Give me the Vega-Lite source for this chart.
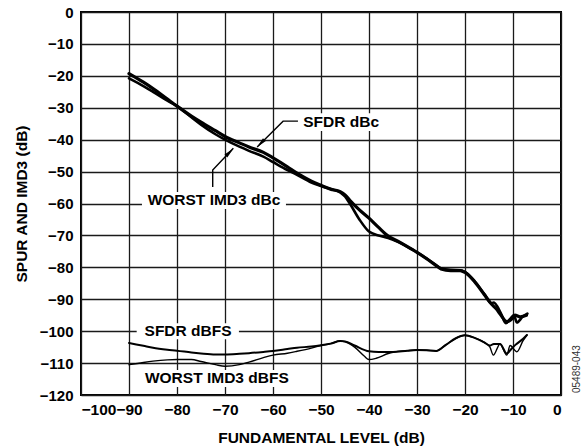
{
  "$schema": "https://vega.github.io/schema/vega-lite/v6.json",
  "width": 480,
  "height": 383,
  "autosize": {"type": "none"},
  "padding": {"left": 81, "top": 12, "right": 27, "bottom": 51},
  "background": "white",
  "config": {
    "view": {"stroke": "black", "strokeWidth": 2},
    "axis": {
      "grid": true, "gridColor": "#1a1a1a", "gridWidth": 1.3, "gridOpacity": 1,
      "domain": false, "ticks": false, "labelOverlap": false, "labelBound": false,
      "labelFont": "Liberation Sans", "labelFontWeight": "bold", "labelColor": "black", "labelFontSize": 15,
      "titleFont": "Liberation Sans", "titleFontWeight": "bold", "titleColor": "black", "titleFontSize": 15.5
    }
  },
  "datasets": {
    "curves": [
      {"series": "SFDR dBc", "x": -90, "y": -19.3}, {"series": "SFDR dBc", "x": -87, "y": -22}, {"series": "SFDR dBc", "x": -85, "y": -24}, {"series": "SFDR dBc", "x": -82, "y": -27.3}, {"series": "SFDR dBc", "x": -80, "y": -29.5}, {"series": "SFDR dBc", "x": -77, "y": -32.6}, {"series": "SFDR dBc", "x": -75, "y": -34.5}, {"series": "SFDR dBc", "x": -72, "y": -37.2}, {"series": "SFDR dBc", "x": -70, "y": -39}, {"series": "SFDR dBc", "x": -67, "y": -41}, {"series": "SFDR dBc", "x": -65, "y": -42.3}, {"series": "SFDR dBc", "x": -62, "y": -44}, {"series": "SFDR dBc", "x": -60, "y": -45.7}, {"series": "SFDR dBc", "x": -57, "y": -48.5}, {"series": "SFDR dBc", "x": -55, "y": -50.5}, {"series": "SFDR dBc", "x": -52, "y": -53}, {"series": "SFDR dBc", "x": -50, "y": -54.3}, {"series": "SFDR dBc", "x": -48, "y": -55.5}, {"series": "SFDR dBc", "x": -46, "y": -56.3}, {"series": "SFDR dBc", "x": -45, "y": -57.3}, {"series": "SFDR dBc", "x": -44, "y": -59}, {"series": "SFDR dBc", "x": -42, "y": -62}, {"series": "SFDR dBc", "x": -40, "y": -64.6}, {"series": "SFDR dBc", "x": -38, "y": -67.5}, {"series": "SFDR dBc", "x": -36, "y": -70.2}, {"series": "SFDR dBc", "x": -34, "y": -71.8}, {"series": "SFDR dBc", "x": -32, "y": -73.5}, {"series": "SFDR dBc", "x": -30, "y": -75.3}, {"series": "SFDR dBc", "x": -28, "y": -77.3}, {"series": "SFDR dBc", "x": -26, "y": -79.5}, {"series": "SFDR dBc", "x": -25, "y": -80.5}, {"series": "SFDR dBc", "x": -23, "y": -81}, {"series": "SFDR dBc", "x": -21, "y": -81}, {"series": "SFDR dBc", "x": -20, "y": -81.6}, {"series": "SFDR dBc", "x": -18, "y": -84.5}, {"series": "SFDR dBc", "x": -16, "y": -88.5}, {"series": "SFDR dBc", "x": -14.5, "y": -91.5}, {"series": "SFDR dBc", "x": -13.5, "y": -93}, {"series": "SFDR dBc", "x": -12.5, "y": -95}, {"series": "SFDR dBc", "x": -11.3, "y": -97}, {"series": "SFDR dBc", "x": -10.5, "y": -96.5}, {"series": "SFDR dBc", "x": -9.6, "y": -95}, {"series": "SFDR dBc", "x": -8.5, "y": -95.5}, {"series": "SFDR dBc", "x": -7.2, "y": -95},

      {"series": "WORST IMD3 dBc", "x": -90, "y": -20.8}, {"series": "WORST IMD3 dBc", "x": -87, "y": -23.2}, {"series": "WORST IMD3 dBc", "x": -85, "y": -25}, {"series": "WORST IMD3 dBc", "x": -82, "y": -27.8}, {"series": "WORST IMD3 dBc", "x": -80, "y": -29.5}, {"series": "WORST IMD3 dBc", "x": -77, "y": -33}, {"series": "WORST IMD3 dBc", "x": -75, "y": -35.3}, {"series": "WORST IMD3 dBc", "x": -72, "y": -38.3}, {"series": "WORST IMD3 dBc", "x": -70, "y": -40}, {"series": "WORST IMD3 dBc", "x": -67, "y": -42.2}, {"series": "WORST IMD3 dBc", "x": -65, "y": -43.5}, {"series": "WORST IMD3 dBc", "x": -62, "y": -45.3}, {"series": "WORST IMD3 dBc", "x": -60, "y": -47}, {"series": "WORST IMD3 dBc", "x": -57, "y": -49.5}, {"series": "WORST IMD3 dBc", "x": -55, "y": -51}, {"series": "WORST IMD3 dBc", "x": -52, "y": -53.4}, {"series": "WORST IMD3 dBc", "x": -50, "y": -54.5}, {"series": "WORST IMD3 dBc", "x": -48, "y": -55.5}, {"series": "WORST IMD3 dBc", "x": -46, "y": -56.5}, {"series": "WORST IMD3 dBc", "x": -45, "y": -57.8}, {"series": "WORST IMD3 dBc", "x": -44, "y": -60}, {"series": "WORST IMD3 dBc", "x": -42, "y": -65}, {"series": "WORST IMD3 dBc", "x": -40, "y": -68.8}, {"series": "WORST IMD3 dBc", "x": -38, "y": -70}, {"series": "WORST IMD3 dBc", "x": -36, "y": -70.8}, {"series": "WORST IMD3 dBc", "x": -34, "y": -72}, {"series": "WORST IMD3 dBc", "x": -32, "y": -73.6}, {"series": "WORST IMD3 dBc", "x": -30, "y": -75.3}, {"series": "WORST IMD3 dBc", "x": -28, "y": -77.2}, {"series": "WORST IMD3 dBc", "x": -26, "y": -79.3}, {"series": "WORST IMD3 dBc", "x": -25, "y": -80.3}, {"series": "WORST IMD3 dBc", "x": -23, "y": -80.8}, {"series": "WORST IMD3 dBc", "x": -21, "y": -80.9}, {"series": "WORST IMD3 dBc", "x": -20, "y": -81.4}, {"series": "WORST IMD3 dBc", "x": -18, "y": -84.3}, {"series": "WORST IMD3 dBc", "x": -16, "y": -88.3}, {"series": "WORST IMD3 dBc", "x": -14.5, "y": -91.3}, {"series": "WORST IMD3 dBc", "x": -14, "y": -91}, {"series": "WORST IMD3 dBc", "x": -13.3, "y": -92.2}, {"series": "WORST IMD3 dBc", "x": -12.5, "y": -94.5}, {"series": "WORST IMD3 dBc", "x": -11.5, "y": -97.5}, {"series": "WORST IMD3 dBc", "x": -10.5, "y": -96}, {"series": "WORST IMD3 dBc", "x": -9.8, "y": -95}, {"series": "WORST IMD3 dBc", "x": -9.2, "y": -97.3}, {"series": "WORST IMD3 dBc", "x": -8, "y": -95.5}, {"series": "WORST IMD3 dBc", "x": -7, "y": -94.5},

      {"series": "SFDR dBFS", "x": -90, "y": -103.7}, {"series": "SFDR dBFS", "x": -87, "y": -104.6}, {"series": "SFDR dBFS", "x": -85, "y": -105.2}, {"series": "SFDR dBFS", "x": -82, "y": -105.8}, {"series": "SFDR dBFS", "x": -80, "y": -106.1}, {"series": "SFDR dBFS", "x": -77, "y": -106.7}, {"series": "SFDR dBFS", "x": -75, "y": -107}, {"series": "SFDR dBFS", "x": -72, "y": -107.3}, {"series": "SFDR dBFS", "x": -70, "y": -107.3}, {"series": "SFDR dBFS", "x": -67, "y": -107.1}, {"series": "SFDR dBFS", "x": -65, "y": -106.9}, {"series": "SFDR dBFS", "x": -62, "y": -106.5}, {"series": "SFDR dBFS", "x": -60, "y": -106.2}, {"series": "SFDR dBFS", "x": -57, "y": -105.6}, {"series": "SFDR dBFS", "x": -55, "y": -105.2}, {"series": "SFDR dBFS", "x": -52, "y": -104.8}, {"series": "SFDR dBFS", "x": -50, "y": -104.4}, {"series": "SFDR dBFS", "x": -48, "y": -103.9}, {"series": "SFDR dBFS", "x": -46, "y": -103.1}, {"series": "SFDR dBFS", "x": -45, "y": -103.2}, {"series": "SFDR dBFS", "x": -43, "y": -104.5}, {"series": "SFDR dBFS", "x": -40, "y": -106.3}, {"series": "SFDR dBFS", "x": -38, "y": -106.5}, {"series": "SFDR dBFS", "x": -35, "y": -106.5}, {"series": "SFDR dBFS", "x": -32, "y": -106.1}, {"series": "SFDR dBFS", "x": -30, "y": -105.9}, {"series": "SFDR dBFS", "x": -28, "y": -106}, {"series": "SFDR dBFS", "x": -26, "y": -106.2}, {"series": "SFDR dBFS", "x": -24, "y": -104.3}, {"series": "SFDR dBFS", "x": -22, "y": -102.3}, {"series": "SFDR dBFS", "x": -20, "y": -101.3}, {"series": "SFDR dBFS", "x": -18, "y": -102.1}, {"series": "SFDR dBFS", "x": -16, "y": -103.5}, {"series": "SFDR dBFS", "x": -14.8, "y": -104.5}, {"series": "SFDR dBFS", "x": -14, "y": -104}, {"series": "SFDR dBFS", "x": -12.7, "y": -104}, {"series": "SFDR dBFS", "x": -11.3, "y": -107}, {"series": "SFDR dBFS", "x": -10.3, "y": -105.5}, {"series": "SFDR dBFS", "x": -9.5, "y": -104.3}, {"series": "SFDR dBFS", "x": -7.9, "y": -102.4}, {"series": "SFDR dBFS", "x": -7.1, "y": -101.2},

      {"series": "WORST IMD3 dBFS", "x": -90, "y": -110.5}, {"series": "WORST IMD3 dBFS", "x": -87, "y": -109.8}, {"series": "WORST IMD3 dBFS", "x": -85, "y": -109.4}, {"series": "WORST IMD3 dBFS", "x": -82, "y": -109}, {"series": "WORST IMD3 dBFS", "x": -80, "y": -108.9}, {"series": "WORST IMD3 dBFS", "x": -77, "y": -108.9}, {"series": "WORST IMD3 dBFS", "x": -75, "y": -109.5}, {"series": "WORST IMD3 dBFS", "x": -72, "y": -110.5}, {"series": "WORST IMD3 dBFS", "x": -70, "y": -111}, {"series": "WORST IMD3 dBFS", "x": -67, "y": -110.5}, {"series": "WORST IMD3 dBFS", "x": -65, "y": -109.7}, {"series": "WORST IMD3 dBFS", "x": -62, "y": -108.3}, {"series": "WORST IMD3 dBFS", "x": -60, "y": -107.5}, {"series": "WORST IMD3 dBFS", "x": -57, "y": -106.9}, {"series": "WORST IMD3 dBFS", "x": -55, "y": -106.3}, {"series": "WORST IMD3 dBFS", "x": -52, "y": -105.3}, {"series": "WORST IMD3 dBFS", "x": -50, "y": -104.5}, {"series": "WORST IMD3 dBFS", "x": -48, "y": -103.9}, {"series": "WORST IMD3 dBFS", "x": -46, "y": -103.1}, {"series": "WORST IMD3 dBFS", "x": -45, "y": -103.3}, {"series": "WORST IMD3 dBFS", "x": -43, "y": -105}, {"series": "WORST IMD3 dBFS", "x": -41, "y": -107.8}, {"series": "WORST IMD3 dBFS", "x": -40, "y": -108.9}, {"series": "WORST IMD3 dBFS", "x": -38.5, "y": -108.5}, {"series": "WORST IMD3 dBFS", "x": -36, "y": -107}, {"series": "WORST IMD3 dBFS", "x": -35, "y": -106.6}, {"series": "WORST IMD3 dBFS", "x": -32, "y": -106.1}, {"series": "WORST IMD3 dBFS", "x": -30, "y": -105.9}, {"series": "WORST IMD3 dBFS", "x": -28, "y": -106}, {"series": "WORST IMD3 dBFS", "x": -26, "y": -106.2}, {"series": "WORST IMD3 dBFS", "x": -24, "y": -104.3}, {"series": "WORST IMD3 dBFS", "x": -22, "y": -102.3}, {"series": "WORST IMD3 dBFS", "x": -20, "y": -101.3}, {"series": "WORST IMD3 dBFS", "x": -18, "y": -102.1}, {"series": "WORST IMD3 dBFS", "x": -16, "y": -103.5}, {"series": "WORST IMD3 dBFS", "x": -14.8, "y": -105}, {"series": "WORST IMD3 dBFS", "x": -14.1, "y": -107.5}, {"series": "WORST IMD3 dBFS", "x": -12.7, "y": -104}, {"series": "WORST IMD3 dBFS", "x": -11.3, "y": -107.5}, {"series": "WORST IMD3 dBFS", "x": -10.6, "y": -104.5}, {"series": "WORST IMD3 dBFS", "x": -9.2, "y": -106.5}, {"series": "WORST IMD3 dBFS", "x": -7.9, "y": -103}, {"series": "WORST IMD3 dBFS", "x": -7.1, "y": -101.2}
    ],
    "boxes": [
      {"x": -54.6, "x2": -37.1, "y": -31.7, "y2": -37.3},
      {"x": -87.3, "x2": -57.3, "y": -56.4, "y2": -61.7},
      {"x": -88.4, "x2": -67.1, "y": -97.5, "y2": -102.5},
      {"x": -87.5, "x2": -55.8, "y": -112.2, "y2": -117.5}
    ],
    "leaders": [
      {"seg": "a", "k": 0, "x": -63.3, "y": -42.3}, {"seg": "a", "k": 1, "x": -57.9, "y": -34.2}, {"seg": "a", "k": 2, "x": -54.8, "y": -34.2},
      {"seg": "b", "k": 0, "x": -72.56, "y": -54.8}, {"seg": "b", "k": 1, "x": -72.56, "y": -49.5}, {"seg": "b", "k": 2, "x": -68.27, "y": -42.7}
    ],
    "labels": [
      {"label": "SFDR dBc", "x": -45.8, "y": -34.5},
      {"label": "WORST IMD3 dBc", "x": -72.3, "y": -58.9},
      {"label": "SFDR dBFS", "x": -77.7, "y": -100},
      {"label": "WORST IMD3 dBFS", "x": -71.7, "y": -114.8}
    ]
  },
  "encoding": {
    "x": {"field": "x", "type": "quantitative", "scale": {"domain": [-100, 0], "nice": false, "zero": false},
      "axis": {"values": [-100, -90, -80, -70, -60, -50, -40, -30, -20, -10, 0], "labelFontSize": 15.5, "labelPadding": 7, "title": "FUNDAMENTAL LEVEL (dB)", "titleBaseline": "alphabetic", "titleY": 47}},
    "y": {"field": "y", "type": "quantitative", "scale": {"domain": [-120, 0], "nice": false, "zero": false},
      "axis": {"values": [-120, -110, -100, -90, -80, -70, -60, -50, -40, -30, -20, -10, 0], "labelPadding": 8, "title": "SPUR AND IMD3 (dB)", "titleX": -60, "titleY": 191.5, "titleAngle": 270, "titleAlign": "center", "titleBaseline": "middle"}}
  },
  "layer": [
    {
      "data": {"name": "boxes"},
      "mark": {"type": "rect", "fill": "white", "strokeWidth": 0},
      "encoding": {
        "x2": {"field": "x2"},
        "y2": {"field": "y2"}
      }
    },
    {
      "data": {"name": "leaders"},
      "mark": {"type": "line", "color": "black", "strokeWidth": 1.4},
      "encoding": {
        "detail": {"field": "seg"},
        "order": {"field": "k", "type": "quantitative"}
      }
    },
    {
      "data": {"values": [{"x": -62.6, "y": -41.2}]},
      "mark": {"type": "point", "shape": "M0,-1L0.36,1L-0.36,1Z", "filled": true, "color": "black", "opacity": 1, "size": 121, "angle": 225}
    },
    {
      "data": {"values": [{"x": -69.0, "y": -43.9}]},
      "mark": {"type": "point", "shape": "M0,-1L0.36,1L-0.36,1Z", "filled": true, "color": "black", "opacity": 1, "size": 121, "angle": 45}
    },
    {
      "data": {"name": "labels"},
      "mark": {"type": "text", "font": "Liberation Sans", "fontWeight": "bold", "fontSize": 15.5, "color": "black", "align": "center", "baseline": "middle"},
      "encoding": {
        "text": {"field": "label"}
      }
    },
    {
      "data": {"name": "curves"},
      "mark": {"type": "line", "color": "black", "interpolate": "monotone", "strokeJoin": "round", "strokeCap": "round"},
      "encoding": {
        "detail": {"field": "series"},
        "strokeWidth": {"field": "series", "type": "nominal", "legend": null,
          "scale": {"domain": ["SFDR dBc", "WORST IMD3 dBc", "SFDR dBFS", "WORST IMD3 dBFS"], "range": [3.2, 1.4, 3.2, 1.4]}}
      }
    },
    {
      "data": {"values": [{"code": "05489-043", "x": 3.3, "y": -111.9}]},
      "mark": {"type": "text", "font": "Liberation Sans", "fontSize": 10, "color": "#333333", "angle": 270, "align": "center", "baseline": "middle"},
      "encoding": {
        "text": {"field": "code"}
      }
    }
  ]
}
